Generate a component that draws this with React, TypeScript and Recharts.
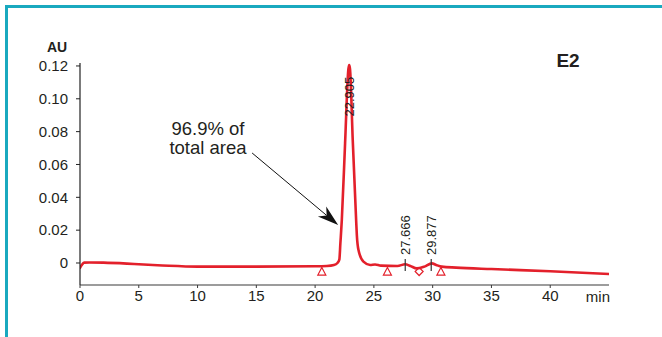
import React from "react"
import {
  ComposedChart,
  Line,
  Scatter,
  XAxis,
  YAxis,
  ReferenceLine,
  ReferenceDot,
} from "recharts"

// Chromatogram trace (min, AU)
const times = [
  0, 0.15, 0.35, 0.8, 2, 4, 5, 7, 10, 15, 20, 21, 21.6, 21.9, 22.06, 22.15,
  22.27, 22.55, 22.83, 22.9, 22.97, 23.2, 23.49, 23.55, 23.69, 24.11, 24.68,
  25.1, 25.6, 27, 27.66, 28.1, 28.65, 29.3, 29.93, 30.3, 30.77, 32, 35, 40, 45,
]
const absorbance = [
  -0.003, -0.0012, 0.0002, 0.0003, 0.0002, -0.0004, -0.0008, -0.0015, -0.0022,
  -0.0022, -0.002, -0.0018, -0.0012, 0.0, 0.002, 0.012, 0.026, 0.073, 0.118,
  0.1205, 0.118, 0.075, 0.026, 0.017, 0.0079, 0.0008, -0.0012, -0.0009, -0.0016,
  -0.0018, -0.0008, -0.0018, -0.0033, -0.0022, -0.0002, -0.0012, -0.0022,
  -0.0028, -0.0037, -0.005, -0.0067,
]

// integration markers
const markerTimes = [20.57, 26.15, 28.85, 30.7]
const markerKinds = ["triangle", "triangle", "diamond", "triangle"]
const markerLevel = -0.0052

// retention time labels
const peakTimes = [22.905, 27.666, 29.877]
const peakLabelBase = [0.0892, 0.0049, 0.0049]
const peakTickMarks = [false, true, true]

const xTicks = [0, 5, 10, 15, 20, 25, 30, 35, 40, 45]
const yTicks = [0, 0.02, 0.04, 0.06, 0.08, 0.1, 0.12]

const RED = "#e3202b"
const INK = "#231f20"
const FONT = "'Liberation Sans', Arial, Helvetica, sans-serif"

const data = times.map((t, i) => ({ t, v: absorbance[i] }))
const markers = markerTimes.map((t, i) => ({ t, v: markerLevel, kind: markerKinds[i] }))

const MarkerShape = (props: any) => {
  const { cx, cy, payload } = props
  if (cx == null || cy == null) return null
  const pts =
    payload.kind === "diamond"
      ? `${cx},${cy - 4} ${cx + 4},${cy} ${cx},${cy + 4} ${cx - 4},${cy}`
      : `${cx},${cy - 4} ${cx + 4},${cy + 3.5} ${cx - 4},${cy + 3.5}`
  return <polygon points={pts} fill="none" stroke={RED} strokeWidth={1.2} />
}

const XTick = (props: any) => {
  const { x, y, payload } = props
  if (payload.value === 45) {
    return (
      <text x={x + 1} y={y + 12} textAnchor="end" fill={INK} fontSize={15} fontFamily={FONT}>
        min
      </text>
    )
  }
  return (
    <g>
      <line x1={x} y1={y - 5} x2={x} y2={y - 2} stroke="#3a3a3a" />
      <text x={x} y={y + 10.5} textAnchor="middle" fill={INK} fontSize={15} fontFamily={FONT}>
        {payload.value}
      </text>
    </g>
  )
}

const ArrowShape = (props: any) => {
  const { x1, y1, x2, y2 } = props
  const dx = x2 - x1
  const dy = y2 - y1
  const len = Math.sqrt(dx * dx + dy * dy)
  const ux = dx / len
  const uy = dy / len
  const nx = -uy
  const ny = ux
  const L = 21
  const W = 6.5
  const notch = 15
  const bx = x2 - L * ux
  const by = y2 - L * uy
  const pts = `${x2},${y2} ${bx + W * nx},${by + W * ny} ${x2 - notch * ux},${y2 - notch * uy} ${bx - W * nx},${by - W * ny}`
  return (
    <g>
      <line x1={x1} y1={y1} x2={x2 - notch * ux} y2={y2 - notch * uy} stroke="#111" strokeWidth={1} />
      <polygon points={pts} fill="#111" />
    </g>
  )
}

const makeLabel = (text: string) => (props: any) => {
  const { cx, cy } = props
  return (
    <g transform={`translate(${cx},${cy}) rotate(-90)`}>
      <text x={0} y={0} dy="0.36em" textAnchor="start" fill={INK} fontSize={13} fontFamily={FONT}>
        {text}
      </text>
    </g>
  )
}

export default function App() {
  return (
    <div
      style={{
        position: "absolute",
        left: 0,
        top: 0,
        width: 662,
        height: 337,
        background: "#fff",
        overflow: "hidden",
      }}
    >
      <div style={{ position: "absolute", left: 5, top: 5, width: 657, height: 3, background: "#19a9bf" }} />
      <div style={{ position: "absolute", left: 5, top: 5, width: 2.5, height: 332, background: "#19a9bf" }} />

      <ComposedChart
        width={662}
        height={337}
        data={data}
        margin={{ top: 63, right: 53, left: 0, bottom: 0 }}
        style={{ position: "absolute", left: 0, top: 0 }}
      >
        <XAxis
          type="number"
          dataKey="t"
          domain={[0, 45]}
          ticks={xTicks}
          interval={0}
          allowDataOverflow
          height={52}
          tickLine={false}
          tickSize={3}
          tickMargin={2}
          tick={<XTick />}
          axisLine={{ stroke: "#3a3a3a", strokeWidth: 1.2 }}
        />
        <YAxis
          type="number"
          domain={[-0.0134, 0.1218]}
          ticks={yTicks}
          interval={0}
          allowDataOverflow
          width={80}
          tickSize={4}
          tickMargin={8}
          tickFormatter={(v: number) => (v === 0 ? "0" : v.toFixed(2))}
          tick={{ fill: INK, fontSize: 15, fontFamily: FONT }}
          tickLine={{ stroke: "#222" }}
          axisLine={{ stroke: "#222", strokeWidth: 1.2 }}
        />
        <Line
          type="monotone"
          dataKey="v"
          stroke={RED}
          strokeWidth={2.6}
          dot={false}
          strokeLinejoin="round"
          strokeLinecap="round"
          isAnimationActive={false}
        />
        <Scatter data={markers} dataKey="v" shape={<MarkerShape />} isAnimationActive={false} />
        {peakTimes.map((t, i) =>
          peakTickMarks[i] ? (
            <ReferenceLine
              key={`tick-${i}`}
              segment={[
                { x: t, y: 0.0024 },
                { x: t, y: -0.0049 },
              ]}
              stroke="#333"
              strokeWidth={1.2}
            />
          ) : null
        )}
        {peakTimes.map((t, i) => (
          <ReferenceDot
            key={`lbl-${i}`}
            x={t}
            y={peakLabelBase[i]}
            r={0}
            shape={makeLabel(t.toFixed(3))}
          />
        ))}
        <ReferenceLine
          segment={[
            { x: 14.64, y: 0.067 },
            { x: 21.96, y: 0.0231 },
          ]}
          shape={ArrowShape}
        />
      </ComposedChart>

      <svg
        width={662}
        height={337}
        style={{ position: "absolute", left: 0, top: 0, pointerEvents: "none" }}
        fontFamily={FONT}
      >
        <text x={57} y={52} textAnchor="middle" fontWeight="bold" fontSize={14} fill={INK}>
          AU
        </text>
        <text x={568} y={66.5} textAnchor="middle" fontWeight="bold" fontSize={19} fill={INK}>
          E2
        </text>
        <text x={208} y={135} textAnchor="middle" fontSize={18.5} fill={INK}>
          96.9% of
        </text>
        <text x={208} y={154} textAnchor="middle" fontSize={18.5} fill={INK}>
          total area
        </text>
      </svg>
    </div>
  )
}
